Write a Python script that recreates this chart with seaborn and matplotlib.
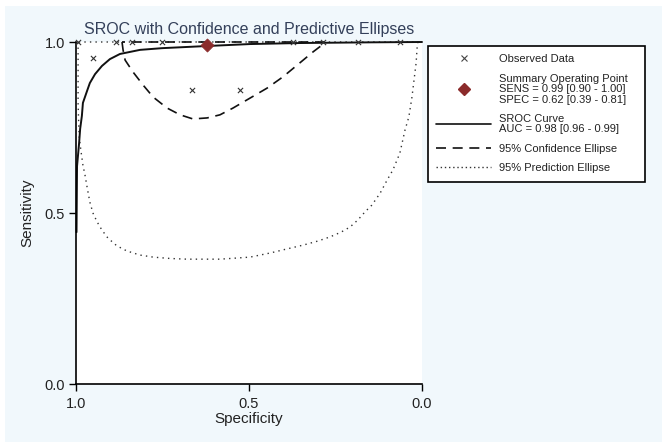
import matplotlib
matplotlib.use("Agg")
import matplotlib.pyplot as plt
import seaborn as sns
import pandas as pd
from matplotlib.lines import Line2D
from matplotlib.patches import Rectangle

# ---- data ----
obs_spec = [0.995, 0.951, 0.665, 0.526, 0.884, 0.838, 0.751, 0.373, 0.286, 0.185, 0.064]
obs_sens = [1.000, 0.953, 0.860, 0.860, 1.000, 1.000, 1.000, 1.000, 1.000, 1.000, 1.000]

summary_spec = [0.62]
summary_sens = [0.99]

sroc_spec = [0.0, 0.15, 0.353, 0.497, 0.627, 0.751, 0.815, 0.844, 0.873, 0.902, 0.925,
             0.945, 0.960, 0.968, 0.980, 0.983, 0.988, 0.991, 0.997, 0.9985]
sroc_sens = [1.0, 0.999, 0.997, 0.994, 0.988, 0.982, 0.977, 0.971, 0.965, 0.950, 0.930,
             0.906, 0.880, 0.857, 0.822, 0.784, 0.746, 0.705, 0.637, 0.444]

conf_spec = [0.867, 0.864, 0.858, 0.835, 0.806, 0.777, 0.737, 0.699, 0.662, 0.621, 0.584,
             0.546, 0.497, 0.448, 0.402, 0.353, 0.315, 0.289, 0.280, 0.867]
conf_sens = [1.000, 0.977, 0.947, 0.912, 0.874, 0.839, 0.807, 0.787, 0.775, 0.778, 0.787,
             0.807, 0.836, 0.865, 0.898, 0.939, 0.971, 0.991, 1.000, 1.000]

pred_spec = [0.994, 0.994, 0.994, 0.991, 0.986, 0.980, 0.974, 0.968, 0.960, 0.951, 0.939,
             0.925, 0.908, 0.882, 0.853, 0.815, 0.777, 0.728, 0.679, 0.630, 0.584,
             0.540, 0.497, 0.439, 0.390, 0.344, 0.301, 0.266, 0.234, 0.208, 0.185,
             0.165, 0.145, 0.121, 0.101, 0.084, 0.064, 0.049, 0.038, 0.029, 0.023,
             0.017, 0.014, 0.012, 0.994]
pred_sens = [1.000, 0.930, 0.822, 0.725, 0.684, 0.640, 0.611, 0.576, 0.532, 0.500, 0.474,
             0.450, 0.427, 0.404, 0.389, 0.377, 0.371, 0.367, 0.365, 0.365, 0.365,
             0.368, 0.371, 0.383, 0.395, 0.406, 0.418, 0.430, 0.444, 0.459, 0.480,
             0.503, 0.523, 0.558, 0.596, 0.626, 0.675, 0.743, 0.781, 0.839, 0.889,
             0.939, 0.985, 1.000, 1.000]

xticks = [1.0, 0.5, 0.0]
xtick_labels = ["1.0", "0.5", "0.0"]
yticks = [0.0, 0.5, 1.0]
ytick_labels = ["0.0", "0.5", "1.0"]

title = "SROC with Confidence and Predictive Ellipses"
legend_labels = [
    "Observed Data",
    "Summary Operating Point\nSENS = 0.99 [0.90 - 1.00]\nSPEC = 0.62 [0.39 - 0.81]",
    "SROC Curve\nAUC = 0.98 [0.96 - 0.99]",
    "95% Confidence Ellipse",
    "95% Prediction Ellipse",
]

# ---- styling ----
sns.set_theme(style="white")
plt.rcParams['font.family'] = ['Liberation Sans', 'DejaVu Sans']

W, H = 670, 448
fig = plt.figure(figsize=(W / 100, H / 100), dpi=100)
fig.patch.set_facecolor("white")
fig.patches.append(Rectangle((5 / W, 6 / H), 657 / W, 436 / H, transform=fig.transFigure,
                             facecolor="#f1f8fc", edgecolor="none", zorder=-1))

ax = fig.add_axes([76 / W, 1 - 384 / H, 346 / W, 342 / H])
ax.set_facecolor("white")

df_pred = pd.DataFrame({"spec": pred_spec, "sens": pred_sens})
df_conf = pd.DataFrame({"spec": conf_spec, "sens": conf_sens})
df_sroc = pd.DataFrame({"spec": sroc_spec, "sens": sroc_sens})
df_obs = pd.DataFrame({"spec": obs_spec, "sens": obs_sens})
df_sum = pd.DataFrame({"spec": summary_spec, "sens": summary_sens})

sns.lineplot(data=df_pred, x="spec", y="sens", sort=False, estimator=None, ax=ax,
             color="#333333", linewidth=1.0, linestyle=(0, (1, 3)), clip_on=False)
sns.lineplot(data=df_conf, x="spec", y="sens", sort=False, estimator=None, ax=ax,
             color="#111111", linewidth=1.2, linestyle=(0, (6, 4)), clip_on=False)
sns.lineplot(data=df_sroc, x="spec", y="sens", sort=False, estimator=None, ax=ax,
             color="#111111", linewidth=1.4, clip_on=False)
sns.scatterplot(data=df_obs, x="spec", y="sens", ax=ax, marker="x", s=14,
                color="#333333", linewidth=0.8, clip_on=False, zorder=4)
sns.scatterplot(data=df_sum, x="spec", y="sens", ax=ax, marker="D", s=45,
                color="#8b2b2b", edgecolor="#8b2b2b", linewidth=0.5, clip_on=False, zorder=5)

ax.set_xlim(1.0, 0.0)
ax.set_ylim(0.0, 1.0)
ax.set_xticks(xticks)
ax.set_xticklabels(xtick_labels)
ax.set_yticks(yticks)
ax.set_yticklabels(ytick_labels)
ax.tick_params(axis="both", which="major", bottom=True, left=True, direction="out",
               length=5, width=1, color="black", labelsize=10.5, labelcolor="#222222", pad=3)
ax.tick_params(axis="x", pad=4)
sns.despine(ax=ax, top=True, right=True)
for s in ["left", "bottom"]:
    ax.spines[s].set_color("black")
    ax.spines[s].set_linewidth(1.2)

ax.set_xlabel("Specificity", fontsize=11, color="#222222", labelpad=1)
ax.set_ylabel("Sensitivity", fontsize=11, color="#222222", labelpad=7)
ax.set_title(title, fontsize=11.5, color="#34405a", pad=6)

handles = [
    Line2D([], [], linestyle="none", marker="x", markersize=4, markeredgewidth=0.8, color="#444444"),
    Line2D([], [], linestyle="none", marker="D", markersize=6, color="#8b2b2b"),
    Line2D([], [], color="#111111", linewidth=1.2),
    Line2D([], [], color="#111111", linewidth=1.2, linestyle=(0, (6, 4))),
    Line2D([], [], color="#333333", linewidth=1.0, linestyle=(0, (1, 2))),
]
leg = fig.legend(handles, legend_labels, loc="upper left",
                 bbox_to_anchor=(428 / W, 1 - 46 / H, 217 / W, 0), mode="expand",
                 fontsize=8, labelspacing=0.85, handlelength=4.9, handletextpad=0.75,
                 borderpad=0.75, frameon=True, fancybox=False, framealpha=1,
                 edgecolor="black", facecolor="white", borderaxespad=0)
leg.get_frame().set_linewidth(1.2)
for t in leg.get_texts():
    t.set_color("#222222")
    t.set_linespacing(1.05)

fig.savefig("out.png", dpi=100, facecolor=fig.get_facecolor())
